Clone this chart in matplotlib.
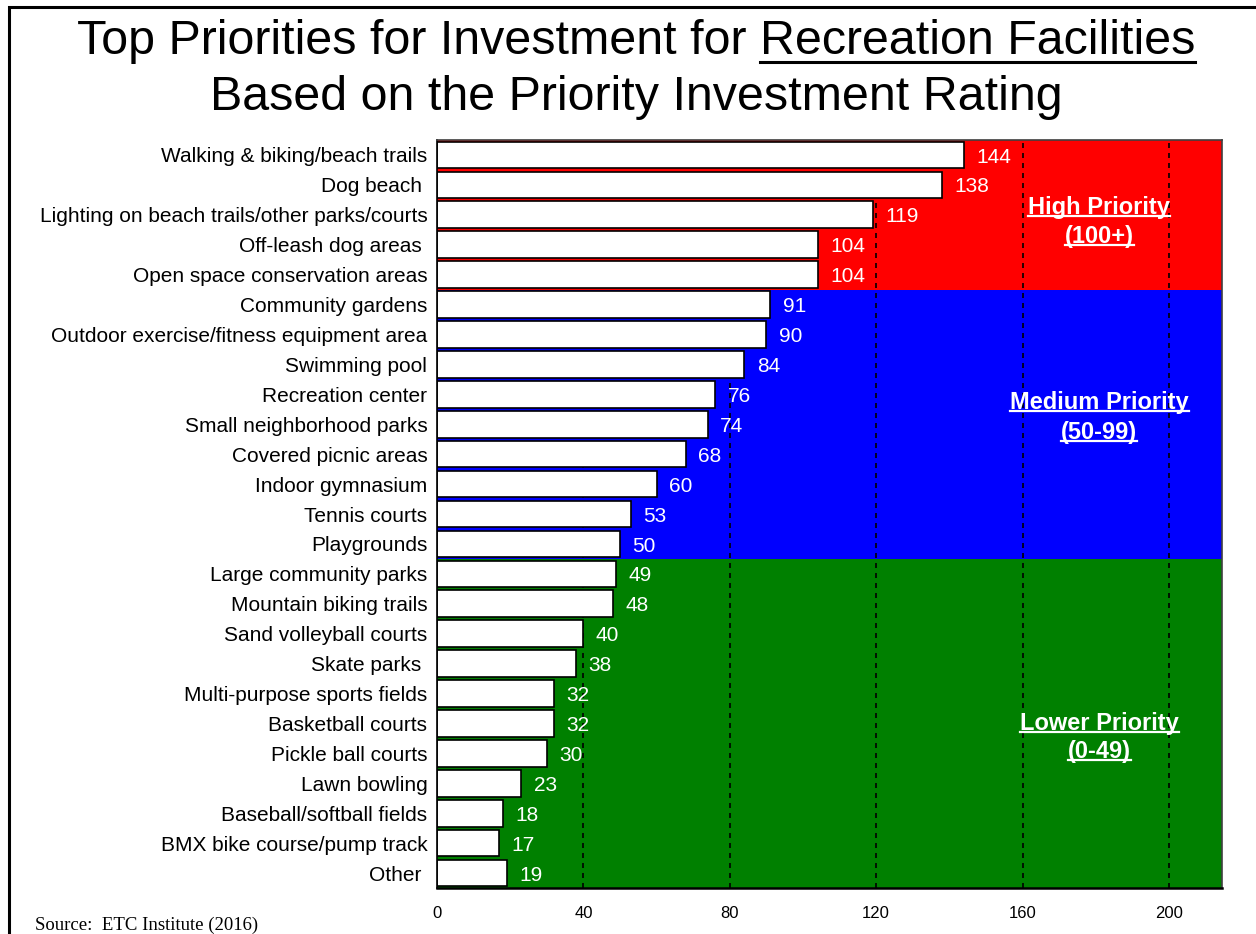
import matplotlib
matplotlib.use("Agg")
import matplotlib.pyplot as plt
from matplotlib.lines import Line2D
from matplotlib.patches import Rectangle

plt.rcParams['font.family'] = ['Liberation Sans', 'DejaVu Sans']

categories = [
    "Walking & biking/beach trails",
    "Dog beach ",
    "Lighting on beach trails/other parks/courts",
    "Off-leash dog areas ",
    "Open space conservation areas",
    "Community gardens",
    "Outdoor exercise/fitness equipment area",
    "Swimming pool",
    "Recreation center",
    "Small neighborhood parks",
    "Covered picnic areas",
    "Indoor gymnasium",
    "Tennis courts",
    "Playgrounds",
    "Large community parks",
    "Mountain biking trails",
    "Sand volleyball courts",
    "Skate parks ",
    "Multi-purpose sports fields",
    "Basketball courts",
    "Pickle ball courts",
    "Lawn bowling",
    "Baseball/softball fields",
    "BMX bike course/pump track",
    "Other ",
]
ratings = [144, 138, 119, 104, 104, 91, 90, 84, 76, 74, 68, 60, 53, 50,
           49, 48, 40, 38, 32, 32, 30, 23, 18, 17, 19]
x_ticks = [0, 40, 80, 120, 160, 200]

# priority bands: (first row, last row, colour, label lines)
bands = [
    (0, 4, "#FF0000", ["High Priority", "(100+)"]),
    (5, 13, "#0000FF", ["Medium Priority", "(50-99)"]),
    (14, 24, "#008000", ["Lower Priority", "(0-49)"]),
]

W, H = 1256, 934
fig = plt.figure(figsize=(W / 100, H / 100), dpi=100)
ax = fig.add_axes([437 / W, 1 - 888 / H, 785 / W, 748 / H])

n = len(categories)
rows = list(range(n))
ax.set_xlim(0, 214.5)
ax.set_ylim(n - 0.5, -0.5)

for first, last, color, _ in bands:
    ax.axhspan(first - 0.5, last + 0.5, color=color, lw=0, zorder=0)

for xt in x_ticks[1:]:
    ax.axvline(xt, color="black", lw=1.2, ls=(0, (3, 3)), zorder=1)

ax.barh(rows, ratings, height=0.89, color="white", edgecolor="black",
        linewidth=1.2, zorder=2)

for r, v in zip(rows, ratings):
    ax.annotate(str(v), (v, r), xytext=(9, -1.5), textcoords="offset points",
                va="center", ha="left", color="white", fontsize=15, zorder=3)

ax.set_yticks(rows)
ax.set_yticklabels(categories, fontsize=15)
ax.set_xticks(x_ticks)
ax.set_xticklabels([str(t) for t in x_ticks], fontsize=12)
ax.tick_params(axis="y", length=0, pad=7)
ax.tick_params(axis="x", length=0, pad=13)

for side in ("top", "right", "left"):
    ax.spines[side].set_color("#404040")
    ax.spines[side].set_linewidth(1.2)
ax.spines["bottom"].set_color("black")
ax.spines["bottom"].set_linewidth(1.8)
ax.spines["left"].set_color("black")

renderer = fig.canvas.get_renderer()
to_fig = fig.transFigure.inverted()


def underline(txt, start_px=None, end_px=None, drop=2.0, lw=1.5, color="black"):
    bb = txt.get_window_extent(renderer)
    x0 = bb.x0 if start_px is None else start_px
    x1 = bb.x1 if end_px is None else end_px
    (fx0, fy), (fx1, _) = to_fig.transform([(x0, bb.y0 + drop), (x1, bb.y0 + drop)])
    fig.add_artist(Line2D([fx0, fx1], [fy, fy], color=color, lw=lw,
                          transform=fig.transFigure))


# band labels
band_label_rows = [(1.74, 2.74), (8.29, 9.26), (19.0, 19.95)]
for (first, last, color, lines), ys in zip(bands, band_label_rows):
    for line, y in zip(lines, ys):
        t = ax.text(181, y, line, color="white", fontsize=17, fontweight="bold",
                    ha="center", va="center", zorder=4)
        underline(t, drop=3.0, lw=1.6, color="white")

# title
title_x = 636 / W
t1 = fig.text(title_x, 1 - 42 / H,
              "Top Priorities for Investment for Recreation Facilities",
              ha="center", va="center", fontsize=34.8)
t2 = fig.text(title_x, 1 - 97 / H, "Based on the Priority Investment Rating",
              ha="center", va="center", fontsize=34.8)
bb_full = t1.get_window_extent(renderer)
probe = fig.text(0, 0, "Recreation Facilities", fontsize=34.8)
seg_w = probe.get_window_extent(renderer).width
probe.remove()
underline(t1, start_px=bb_full.x1 - seg_w, end_px=bb_full.x1, drop=2.5, lw=2.2)

fig.text(35 / W, 1 - 925 / H, "Source:  ETC Institute (2016)",
         family=["Liberation Serif", "DejaVu Serif"], fontsize=13.5,
         ha="left", va="center")

# outer frame
fig.add_artist(Rectangle((9 / W, -0.1), 2.0, 1.1 - 7 / H, fill=False,
                         edgecolor="black", lw=2.2, transform=fig.transFigure))

fig.savefig("out.png", dpi=100)
